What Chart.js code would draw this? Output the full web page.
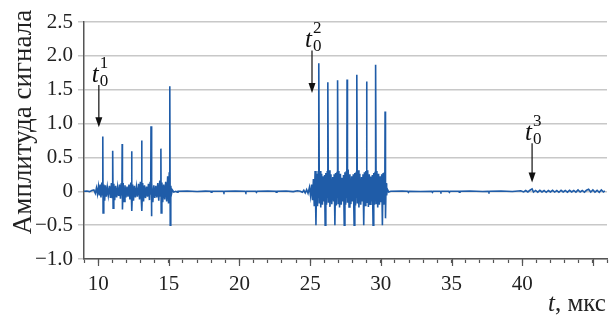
<!DOCTYPE html>
<html>
<head>
<meta charset="utf-8">
<script src="https://cdn.jsdelivr.net/npm/chart.js@4.4.0/dist/chart.umd.min.js"></script>
<style>
  html, body { margin: 0; padding: 0; background: #fff; }
  #wrap { width: 616px; height: 320px; }
</style>
</head>
<body>
<div id="wrap"><canvas id="grafico" width="616" height="320"></canvas></div>
<script>
// время, мкс / амплитуда, segment by segment
const leadTime = [9.0, 9.2, 9.4, 9.55, 9.7, 9.8, 9.88, 9.95, 10.02, 10.08, 10.14, 10.2, 10.26, 10.31];
const leadAmp  = [0.00, 0.005, -0.005, 0.01, 0.02, -0.03, 0.05, -0.04, 0.07, -0.06, 0.10, -0.09, 0.13, -0.05];

// first burst, 8 spikes
const burst1Time = [
  10.33, 10.35, 10.40, 10.46, 10.52, 10.58, 10.65, 10.72, 10.80, 10.87, 10.94, 10.99, 11.02,
  11.04, 11.06, 11.11, 11.17, 11.24, 11.31, 11.38, 11.45, 11.52, 11.58, 11.64, 11.68,
  11.70, 11.72, 11.77, 11.83, 11.90, 11.97, 12.04, 12.11, 12.18, 12.25, 12.31, 12.35,
  12.37, 12.39, 12.44, 12.50, 12.57, 12.64, 12.71, 12.78, 12.86, 12.93, 12.99, 13.04,
  13.08, 13.10, 13.15, 13.21, 13.28, 13.35, 13.42, 13.49, 13.56, 13.63, 13.68, 13.72,
  13.74, 13.76, 13.81, 13.87, 13.94, 14.01, 14.08, 14.15, 14.22, 14.29, 14.36, 14.41,
  14.44, 14.46, 14.51, 14.57, 14.64, 14.71, 14.78, 14.85, 14.92, 14.98, 15.03, 15.06,
  15.08, 15.10, 15.14, 15.19, 15.25, 15.35
];
const burst1Amp = [
  0.81, -0.32, 0.10, -0.14, 0.09, -0.08, 0.06, -0.06, 0.08, -0.10, 0.12, -0.09, 0.05,
  0.60, -0.25, 0.11, -0.13, 0.08, -0.09, 0.06, -0.07, 0.10, -0.11, 0.12, -0.06,
  0.70, -0.27, 0.12, -0.15, 0.09, -0.09, 0.07, -0.08, 0.10, -0.12, 0.13, -0.05,
  0.59, -0.29, 0.10, -0.14, 0.08, -0.09, 0.06, -0.08, 0.11, -0.12, 0.14, -0.06,
  0.75, -0.29, 0.12, -0.15, 0.09, -0.10, 0.07, -0.08, 0.11, -0.13, 0.14, -0.05,
  0.96, -0.37, 0.12, -0.16, 0.09, -0.10, 0.08, -0.09, 0.12, -0.14, 0.16, -0.07,
  0.63, -0.32, 0.13, -0.16, 0.10, -0.12, 0.14, -0.15, 0.22, -0.18, 0.28, -0.10,
  1.55, -0.50, 0.08, -0.04, 0.02, -0.01
];

// quiet part between the bursts
const gapTime = [15.5, 15.6, 15.65, 16.3, 17.0, 17.6, 17.95, 18.0, 18.05, 18.85, 18.9, 18.95, 19.7, 20.4, 20.45, 20.5, 21.15, 21.2, 21.25, 22.0, 22.55, 22.6, 22.65, 23.3, 23.8, 24.1];
const gapAmp  = [0.0, -0.012, 0.0, 0.004, -0.004, 0.003, 0.0, -0.015, 0.0, 0.0, -0.015, 0.0, 0.004, 0.0, -0.015, 0.0, 0.0, -0.015, 0.0, 0.004, 0.0, -0.015, 0.0, 0.005, -0.005, 0.008];

// second burst, 8 spikes
const burst2Time = [
  24.3, 24.45, 24.55, 24.65, 24.75, 24.85, 24.95, 25.03, 25.10, 25.17, 25.23, 25.29, 25.35, 25.41, 25.46, 25.52, 25.57, 25.60,
  25.62, 25.65, 25.70, 25.75, 25.81, 25.87, 25.93, 25.98, 26.02, 26.06, 26.11, 26.16, 26.21, 26.24,
  26.26, 26.29, 26.34, 26.40, 26.47, 26.53, 26.60, 26.66, 26.70, 26.75, 26.80, 26.85, 26.90, 26.93,
  26.95, 26.98, 27.03, 27.08, 27.14, 27.20, 27.26, 27.32, 27.36, 27.41, 27.46, 27.51, 27.56, 27.59,
  27.61, 27.64, 27.69, 27.75, 27.81, 27.88, 27.94, 28.00, 28.05, 28.11, 28.16, 28.21, 28.26, 28.29,
  28.31, 28.34, 28.39, 28.45, 28.51, 28.58, 28.64, 28.70, 28.74, 28.79, 28.84, 28.89, 28.94, 28.97,
  28.99, 29.02, 29.07, 29.12, 29.18, 29.24, 29.30, 29.36, 29.40, 29.45, 29.50, 29.55, 29.59, 29.62,
  29.64, 29.67, 29.72, 29.78, 29.84, 29.90, 29.96, 30.02, 30.06, 30.11, 30.16, 30.21, 30.25, 30.28,
  30.30, 30.33, 30.37, 30.41, 30.46, 30.55
];
const burst2Amp = [
  0.0, -0.015, 0.015, -0.025, 0.025, -0.03, 0.06, -0.07, 0.10, -0.13, 0.18, -0.22, 0.30, -0.50, 0.26, -0.22, 0.30, -0.10,
  1.89, -0.18, 0.30, -0.24, 0.26, -0.20, 0.22, -0.14, 0.24, -0.50, 0.27, -0.20, 0.30, -0.10,
  1.61, -0.17, 0.31, -0.23, 0.25, -0.19, 0.21, -0.15, 0.25, -0.50, 0.27, -0.21, 0.29, -0.10,
  1.64, -0.18, 0.30, -0.24, 0.26, -0.20, 0.20, -0.15, 0.24, -0.50, 0.28, -0.20, 0.30, -0.10,
  1.65, -0.17, 0.32, -0.23, 0.25, -0.19, 0.22, -0.15, 0.25, -0.50, 0.27, -0.21, 0.29, -0.10,
  1.72, -0.18, 0.31, -0.24, 0.26, -0.20, 0.21, -0.15, 0.25, -0.50, 0.28, -0.21, 0.30, -0.10,
  1.62, -0.17, 0.31, -0.23, 0.25, -0.19, 0.22, -0.15, 0.24, -0.50, 0.27, -0.20, 0.29, -0.10,
  1.87, -0.18, 0.30, -0.24, 0.26, -0.20, 0.22, -0.15, 0.25, -0.50, 0.27, -0.20, 0.28, -0.10,
  1.18, -0.40, 0.12, -0.06, 0.03, -0.01
];

// tail after the second burst
const tailTime = [30.7, 31.5, 31.9, 31.95, 32.0, 32.8, 33.6, 33.65, 33.7, 34.2, 34.25, 34.3, 34.8, 34.85, 34.9, 35.5, 35.55, 35.6, 36.3, 37.2, 37.6, 37.65, 37.7, 38.5, 39.3,
  39.9, 40.1, 40.25, 40.4, 40.55, 40.7, 40.8, 40.95, 41.1, 41.25, 41.4, 41.55, 41.7, 41.85, 42.0, 42.15, 42.3, 42.45, 42.6, 42.75, 42.9, 43.05, 43.2, 43.35, 43.5, 43.65, 43.8, 43.95,
  44.1, 44.25, 44.4, 44.55, 44.7, 44.85, 45.0, 45.15, 45.3, 45.45, 45.6, 45.75, 45.85];
const tailAmp  = [0.0, 0.004, 0.0, -0.015, 0.0, -0.004, 0.0, -0.015, 0.0, 0.0, -0.012, 0.0, 0.0, -0.015, 0.0, 0.0, -0.012, 0.0, 0.004, -0.004, 0.0, -0.012, 0.0, 0.004, -0.004,
  0.008, -0.01, 0.012, -0.01, 0.015, 0.035, -0.012, 0.012, -0.012, 0.015, -0.01, 0.012, -0.015, 0.012, -0.01, 0.015, -0.012, 0.01, -0.015, 0.015, -0.01, 0.012, -0.012, 0.015, -0.01, 0.012, -0.012, 0.02,
  -0.01, 0.012, -0.012, 0.015, 0.03, -0.01, 0.02, -0.012, 0.015, -0.015, 0.02, -0.01, 0.005];

// стрелки t0^n
const markerTime = [10.05, 25.13, 40.7];
const markerTop  = [1.57, 2.08, 0.71];
const markerTip  = [0.945, 1.45, 0.13];
const markerIdx  = ['1', '2', '3'];

const yTicksShown = [-1, -0.5, 0, 0.5, 1, 1.5, 2, 2.5];

const allTime = [].concat(leadTime, burst1Time, gapTime, burst2Time, tailTime);
const allAmp  = [].concat(leadAmp, burst1Amp, gapAmp, burst2Amp, tailAmp);
const puntos = allTime.map((t, i) => ({ x: t, y: allAmp[i] }));

const serif = 'Liberation Serif';

const extras = {
  id: 'extras',
  afterDraw(chart) {
    const { ctx, chartArea } = chart;
    const x = chart.scales.x;
    const y = chart.scales.y;
    ctx.save();

    // longer ticks at every 5
    ctx.strokeStyle = '#555';
    ctx.lineWidth = 1.2;
    for (let v = 10; v <= 45; v += 5) {
      const px = Math.round(x.getPixelForValue(v)) + 0.5;
      ctx.beginPath();
      ctx.moveTo(px, chartArea.bottom);
      ctx.lineTo(px, chartArea.bottom + 7);
      ctx.stroke();
    }

    // arrows and labels
    ctx.fillStyle = '#111';
    ctx.strokeStyle = '#111';
    markerTime.forEach((t, i) => {
      const ax = x.getPixelForValue(t);
      const top = y.getPixelForValue(markerTop[i]);
      const tip = y.getPixelForValue(markerTip[i]);
      ctx.lineWidth = 1.2;
      ctx.beginPath();
      ctx.moveTo(ax, top);
      ctx.lineTo(ax, tip - 8);
      ctx.stroke();
      ctx.beginPath();
      ctx.moveTo(ax - 3.5, tip - 10);
      ctx.lineTo(ax + 3.5, tip - 10);
      ctx.lineTo(ax, tip);
      ctx.closePath();
      ctx.fill();

      const base = top - 3;
      ctx.textAlign = 'left';
      ctx.textBaseline = 'alphabetic';
      ctx.font = 'italic 25px "' + serif + '"';
      const tx = ax - 7;
      ctx.fillText('t', tx, base);
      const tw = ctx.measureText('t').width;
      ctx.font = '17px "' + serif + '"';
      ctx.fillText('0', tx + tw + 1, base + 4);
      ctx.fillText(markerIdx[i], tx + tw + 1, base - 14);
    });

    // подпись оси Y
    ctx.save();
    ctx.translate(24, 122);
    ctx.rotate(-Math.PI / 2);
    ctx.textAlign = 'center';
    ctx.textBaseline = 'middle';
    ctx.fillStyle = '#222';
    ctx.font = '27px "' + serif + '"';
    ctx.fillText('Амплитуда сигнала', 0, 0);
    ctx.restore();

    // подпись оси X
    ctx.fillStyle = '#222';
    ctx.textAlign = 'left';
    ctx.textBaseline = 'alphabetic';
    ctx.font = 'italic 25px "' + serif + '"';
    ctx.fillText('t', 548, 311);
    const tW = ctx.measureText('t').width;
    ctx.font = '25px "' + serif + '"';
    ctx.fillText(', мкс', 548 + tW, 311);

    ctx.restore();
  }
};

const ctx = document.getElementById('grafico');

new Chart(ctx, {
  type: 'line',
  data: {
    datasets: [{
      label: 'сигнал',
      data: puntos,
      borderColor: '#1f5ca8',
      borderWidth: 1.6,
      pointRadius: 0,
      tension: 0,
      fill: false
    }]
  },
  options: {
    responsive: false,
    animation: false,
    devicePixelRatio: 1,
    layout: { padding: { left: 0, top: 22, right: 4, bottom: 0 } },
    plugins: {
      legend: { display: false },
      tooltip: { enabled: false }
    },
    scales: {
      x: {
        type: 'linear',
        min: 9,
        max: 46,
        afterFit: (s) => { s.height = 61; },
        border: { color: '#555', width: 1.5 },
        grid: { drawOnChartArea: false, drawTicks: true, tickLength: 4, tickColor: '#555', tickWidth: 1.2 },
        ticks: {
          stepSize: 1,
          autoSkip: false,
          maxRotation: 0,
          padding: 9,
          color: '#222',
          font: { family: serif, size: 21 },
          callback: (v) => (v % 5 === 0 && v <= 40) ? String(v) : ''
        }
      },
      y: {
        min: -1,
        max: 2.5,
        afterFit: (s) => { s.width = 84; },
        afterBuildTicks: (s) => { s.ticks = yTicksShown.map(v => ({ value: v })); },
        border: { color: '#555', width: 1.5 },
        grid: { color: '#c8c8c8', lineWidth: 1.5, tickLength: 6, tickColor: '#c8c8c8' },
        ticks: {
          padding: 5,
          color: '#222',
          font: { family: serif, size: 21 },
          callback: (v) => v === 0 ? '0' : (v < 0 ? '\u2212' : '') + Math.abs(v).toFixed(1)
        }
      }
    }
  },
  plugins: [extras]
});
</script>
</body>
</html>
